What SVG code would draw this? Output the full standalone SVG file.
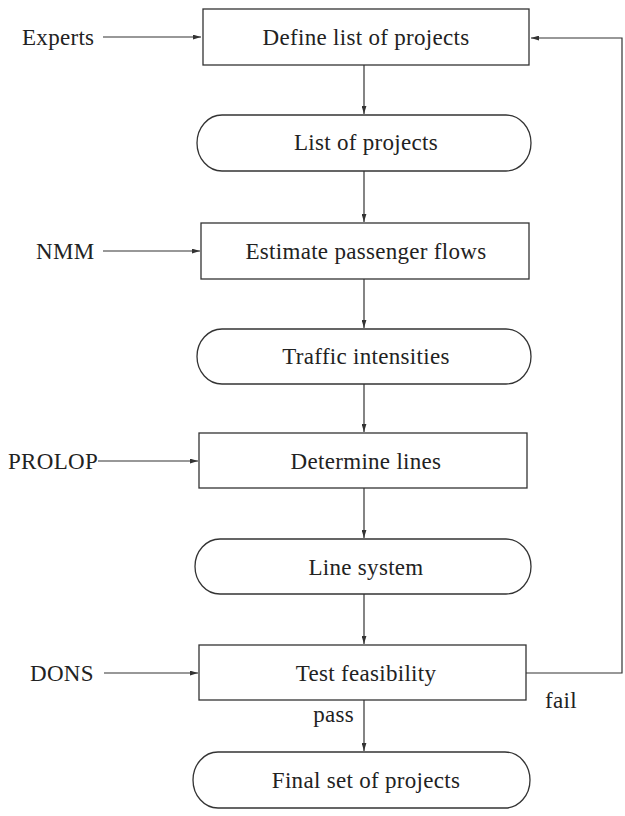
<svg xmlns="http://www.w3.org/2000/svg" width="625" height="816" viewBox="0 0 625 816">
<style>
  .box { fill: #fff; stroke: #333; stroke-width: 1.3; }
  .lbl { font-family: "Liberation Serif", "DejaVu Serif", serif; font-size: 23px; fill: #222; text-anchor: middle; letter-spacing: 0.3px; }
  .side { font-family: "Liberation Serif", "DejaVu Serif", serif; font-size: 23px; fill: #222; letter-spacing: 0.3px; }
  .edge { fill: none; stroke: #333; stroke-width: 1.2; marker-end: url(#ah); }
  .plain { fill: none; stroke: #333; stroke-width: 1.2; }
</style>
<defs>
  <marker id="ah" viewBox="0 0 10 6" refX="10" refY="3" markerWidth="8" markerHeight="5" markerUnits="userSpaceOnUse" orient="auto">
    <path d="M0,0 L10,3 L0,6 z" fill="#333"/>
  </marker>
</defs>
<rect width="625" height="816" fill="#fff"/>

<g id="connectors">
  <path class="edge" d="M103,37 L201,37"/>
  <path class="edge" d="M364,65 L364,114"/>
  <path class="edge" d="M364,171 L364,222"/>
  <path class="edge" d="M103,251 L200,251"/>
  <path class="edge" d="M364,279 L364,328"/>
  <path class="edge" d="M364,384 L364,432"/>
  <path class="edge" d="M98,461 L198,461"/>
  <path class="edge" d="M364,488 L364,538"/>
  <path class="edge" d="M364,594 L364,644"/>
  <path class="edge" d="M104,673 L198,673"/>
  <path class="edge" d="M364,700 L364,751"/>
  <path class="edge" d="M526,673 L622,673 L622,38 L531,38"/>
  <text class="side" x="545" y="708">fail</text>
  <text class="side" x="354" y="722" text-anchor="end">pass</text>
</g>

<g id="experts"><text class="side" x="22" y="45">Experts</text></g>
<g id="nmm"><text class="side" x="36" y="259">NMM</text></g>
<g id="prolop"><text class="side" x="8" y="469">PROLOP</text></g>
<g id="dons"><text class="side" x="30" y="681">DONS</text></g>

<g id="define">
  <rect class="box" x="203" y="9" width="326" height="56"/>
  <text class="lbl" x="366" y="45">Define list of projects</text>
</g>
<g id="list">
  <rect class="box" x="197" y="115" width="334" height="56" rx="25" ry="28"/>
  <text class="lbl" x="366" y="150">List of projects</text>
</g>
<g id="estimate">
  <rect class="box" x="201" y="223" width="328" height="56"/>
  <text class="lbl" x="366" y="259">Estimate passenger flows</text>
</g>
<g id="traffic">
  <rect class="box" x="197" y="329" width="334" height="55" rx="25" ry="27.5"/>
  <text class="lbl" x="366" y="364">Traffic intensities</text>
</g>
<g id="determine">
  <rect class="box" x="199" y="433" width="328" height="55"/>
  <text class="lbl" x="366" y="469">Determine lines</text>
</g>
<g id="linesystem">
  <rect class="box" x="195" y="539" width="336" height="55" rx="25" ry="27.5"/>
  <text class="lbl" x="366" y="575">Line system</text>
</g>
<g id="test">
  <rect class="box" x="199" y="645" width="327" height="55"/>
  <text class="lbl" x="366" y="681">Test feasibility</text>
</g>
<g id="final">
  <rect class="box" x="193" y="752" width="337" height="56" rx="25" ry="28"/>
  <text class="lbl" x="366" y="788">Final set of projects</text>
</g>
</svg>
